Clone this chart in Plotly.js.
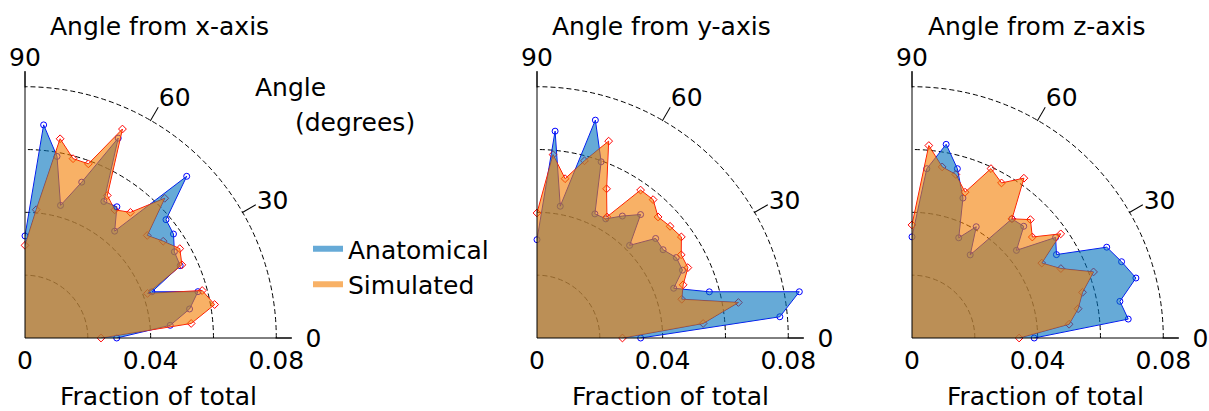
<!DOCTYPE html>
<html>
<head>
<meta charset="utf-8">
<script src="https://cdn.plot.ly/plotly-3.0.1.min.js"></script>
<style>
html,body{margin:0;padding:0;background:#fff;}
#chart{width:1209px;height:411px;}
</style>
</head>
<body>
<div id="chart"></div>
<script>
// ---- data ----
const angles = [0,5,10,15,20,25,30,35,40,45,50,55,60,65,70,75,80,85,90];
const panelTitles = ['Angle from x-axis','Angle from y-axis','Angle from z-axis'];
const seriesNames = ['Anatomical','Simulated'];

const anatomicalX = [0.0292,0.0464,0.0532,0.0570,0.0430,0.0545,0.0549,0.0577,0.0586,0.0728,0.0444,0.0510,0.0502,0.0702,0.0528,0.0437,0.0587,0.0681,0.0325];
const simulatedX  = [0.0242,0.0531,0.0613,0.0584,0.0415,0.0551,0.0569,0.0537,0.0508,0.0629,0.0522,0.0498,0.0524,0.0734,0.0590,0.0591,0.0644,0.0410,0.0295];

const anatomicalY = [0.0330,0.0776,0.0848,0.0568,0.0463,0.0511,0.0512,0.0490,0.0493,0.0417,0.0513,0.0474,0.0438,0.0436,0.0597,0.0718,0.0426,0.0661,0.0313];
const simulatedY  = [0.0272,0.0531,0.0651,0.0477,0.0495,0.0530,0.0530,0.0561,0.0553,0.0545,0.0575,0.0575,0.0445,0.0524,0.0667,0.0584,0.0515,0.0586,0.0398];

const anatomicalZ = [0.0389,0.0691,0.0672,0.0738,0.0710,0.0684,0.0531,0.0558,0.0434,0.0503,0.0495,0.0323,0.0409,0.0352,0.0474,0.0558,0.0626,0.0541,0.0322];
const simulatedZ  = [0.0341,0.0502,0.0537,0.0562,0.0615,0.0523,0.0477,0.0578,0.0500,0.0533,0.0495,0.0621,0.0570,0.0595,0.0494,0.0539,0.0553,0.0615,0.0360];

const radialTickVals = [0,0.02,0.04,0.06,0.08];
const radialTickText = ['0','','0.04','','0.08'];
const angularTickVals = [0,30,60,90];
const angularTickText = ['\u00a0\u20090','30','60','90'];
const radialMax = 0.085;
const radialTitle = 'Fraction of total';
const angleTitleLines = ['Angle','(degrees)'];

// ---- style ----
const W = 1209, H = 411;
const FONT = 'DejaVu Sans, Liberation Sans, Arial, sans-serif';
const FS = 25;
const blueLine = '#0000ff', redLine = '#ff0000';
const blueFill = 'rgba(0,114,189,0.6)', orangeFill = 'rgba(244,125,0,0.6)';

const panels = [
  {id:'polar',  anat:anatomicalX, sim:simulatedX, ox:25,  titleX:159},
  {id:'polar2', anat:anatomicalY, sim:simulatedY, ox:537, titleX:662},
  {id:'polar3', anat:anatomicalZ, sim:simulatedZ, ox:912, titleX:1036}
];
const originY = 338;
const sizePx = 267;

const traces = [];
const layout = {
  width:W, height:H,
  margin:{l:0,r:0,t:0,b:0},
  paper_bgcolor:'#fff',
  font:{family:FONT, size:FS, color:'#000'},
  showlegend:true,
  legend:{x:308/W, y:1-226/H, xanchor:'left', yanchor:'top', bgcolor:'rgba(0,0,0,0)',
          font:{family:FONT,size:FS,color:'#000'}, tracegroupgap:0},
  annotations:[],
  shapes:[]
};

function note(text, xpx, ypx, anchor) {
  layout.annotations.push({text:text, xref:'paper', yref:'paper', x:xpx/W, y:1-ypx/H,
    xanchor:anchor, yanchor:'middle', showarrow:false, borderpad:0,
    font:{family:FONT,size:FS,color:'#000'}});
}

panels.forEach((p, k) => {
  const dom = {
    x:[p.ox/W, (p.ox+sizePx)/W],
    y:[(H-originY)/H, (H-originY+sizePx)/H]
  };
  layout[p.id] = {
    domain: dom,
    sector:[0,90],
    bgcolor:'rgba(0,0,0,0)',
    radialaxis:{
      range:[0, radialMax], angle:0, side:'clockwise',
      tickvals:radialTickVals, ticktext:radialTickText, tickangle:0,
      ticks:'', showline:true, linecolor:'#000', linewidth:1,
      showgrid:true, gridcolor:'#000', gridwidth:1, griddash:'5px,3px',
      tickfont:{family:FONT,size:FS,color:'#000'}
    },
    angularaxis:{
      direction:'counterclockwise', rotation:0,
      tickmode:'array', tickvals:angularTickVals, ticktext:angularTickText,
      ticks:'inside', ticklen:16, tickcolor:'#000', tickwidth:1,
      showline:false, showgrid:false,
      tickfont:{family:FONT,size:FS,color:'#000'}
    }
  };
  // y-axis (90 deg edge) line along the domain's left edge
  layout.shapes.push({type:'line', xref:'paper', yref:'paper',
    x0:dom.x[0], x1:dom.x[0], y0:dom.y[0], y1:dom.y[1],
    line:{color:'#000', width:1}, layer:'above'});

  // outlines with markers (drawn under the translucent fills)
  traces.push({type:'scatterpolar', subplot:p.id, r:p.anat, theta:angles, mode:'lines+markers',
    line:{color:blueLine, width:1}, marker:{symbol:'circle-open', size:6, color:blueLine, line:{width:1}},
    showlegend:false, hoverinfo:'skip', cliponaxis:false});
  traces.push({type:'scatterpolar', subplot:p.id, r:p.sim, theta:angles, mode:'lines+markers',
    line:{color:redLine, width:1}, marker:{symbol:'diamond-open', size:6, color:redLine, line:{width:1}},
    showlegend:false, hoverinfo:'skip', cliponaxis:false});
  // fills (closed through the origin)
  traces.push({type:'scatterpolar', subplot:p.id, r:[0].concat(p.anat), theta:[0].concat(angles),
    mode:'none', fill:'toself', fillcolor:blueFill, name:seriesNames[0], legendgroup:'a',
    showlegend:k===0, hoverinfo:'skip'});
  traces.push({type:'scatterpolar', subplot:p.id, r:[0].concat(p.sim), theta:[0].concat(angles),
    mode:'none', fill:'toself', fillcolor:orangeFill, name:seriesNames[1], legendgroup:'s',
    showlegend:k===0, hoverinfo:'skip'});

  note(panelTitles[k], p.titleX, 26, 'center');
  note(radialTitle, p.ox + sizePx/2, 396, 'center');
});

note(angleTitleLines[0], 254, 88, 'left');
note(angleTitleLines[1], 294, 123, 'left');

Plotly.newPlot('chart', traces, layout, {staticPlot:true, displayModeBar:false});
</script>
</body>
</html>
